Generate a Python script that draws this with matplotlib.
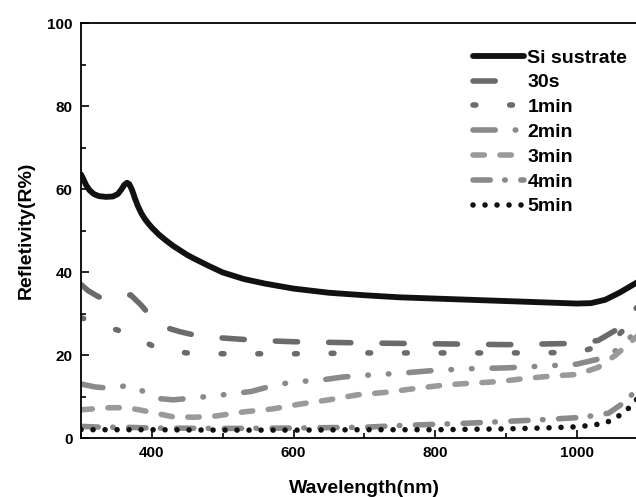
import matplotlib
matplotlib.use('Agg')
import matplotlib.pyplot as plt
from matplotlib.ticker import MultipleLocator

plt.rcParams['font.family'] = ['Liberation Sans', 'DejaVu Sans']
plt.rcParams['font.weight'] = 'bold'

# data (wavelength in nm, reflectivity in %)
wl_si = [300, 303, 307, 312, 318, 325, 335, 345, 352, 357, 361, 365, 368, 372, 376,
         380, 385, 390, 395, 400, 410, 420, 430, 440, 450, 460, 480, 500, 530, 560,
         600, 650, 700, 750, 800, 850, 900, 950, 1000, 1020, 1040, 1060, 1080, 1100]
r_si = [63.5, 62.5, 61, 59.7, 58.8, 58.3, 58.1, 58.2, 58.8, 59.9, 61, 61.5, 61.2,
        59.8, 57.8, 56, 54.2, 52.8, 51.7, 50.7, 49, 47.6, 46.3, 45.2, 44.1, 43.2,
        41.5, 39.9, 38.3, 37.2, 36, 35, 34.4, 33.9, 33.6, 33.3, 33, 32.7, 32.4,
        32.5, 33.3, 35, 37, 39]

wl_30s = [300, 310, 325, 340, 355, 370, 385, 400, 420, 440, 460, 500, 550, 600,
          700, 800, 900, 1000, 1030, 1055, 1085, 1100]
r_30s = [37, 35.5, 34, 33.5, 33.8, 34.5, 32, 29, 26.6, 25.6, 24.8, 24.1, 23.5,
         23.2, 22.9, 22.7, 22.5, 22.8, 23.5, 26, 31.5, 34]

wl_1min = [300, 320, 340, 352, 370, 385, 400, 420, 450, 500, 600, 700, 800, 900,
           1000, 1030, 1055, 1085, 1100]
r_1min = [29, 27.8, 26.5, 26, 24.5, 23.5, 22.3, 21, 20.5, 20.3, 20.3, 20.5, 20.5,
          20.5, 20.6, 22, 24.3, 29, 31]

wl_2min = [300, 320, 340, 360, 375, 390, 410, 430, 450, 500, 540, 575, 600, 640,
           670, 700, 750, 800, 850, 900, 950, 1000, 1030, 1060, 1085, 1100]
r_2min = [13, 12.3, 12, 12.5, 12.5, 11, 9.5, 9.2, 9.5, 10.4, 11.2, 12.8, 13.5, 14,
          14.7, 15.1, 15.6, 16.3, 16.7, 16.9, 17.3, 17.8, 19, 21.5, 26, 28]

wl_3min = [300, 340, 365, 385, 410, 430, 460, 490, 530, 570, 610, 650, 690, 730,
           775, 815, 850, 890, 930, 970, 1000, 1030, 1055, 1075, 1085, 1100]
r_3min = [6.8, 7.3, 7.3, 6.7, 5.8, 5.1, 5, 5.3, 6.3, 7, 8.2, 9.2, 10.4, 11, 12,
          12.8, 13.2, 13.6, 14.4, 15, 15.3, 17, 20, 23, 24.5, 26]

wl_4min = [300, 330, 360, 400, 500, 600, 700, 750, 800, 850, 900, 950, 1000, 1030,
           1045, 1062, 1080, 1100]
r_4min = [2.8, 2.6, 2.6, 2.4, 2.3, 2.4, 2.6, 3, 3.3, 3.6, 4, 4.4, 4.9, 5.5, 6, 8,
          10.8, 14]

wl_5min = [300, 400, 500, 600, 700, 800, 900, 950, 1000, 1022, 1040, 1055, 1072,
           1086, 1100]
r_5min = [2, 2, 1.9, 1.9, 2, 2, 2.2, 2.4, 2.7, 3.1, 3.6, 4.8, 7, 9.6, 12]

labels = ['Si sustrate', '30s', '1min', '2min', '3min', '4min', '5min']

fig = plt.figure(figsize=(6.36, 4.97), dpi=100)
# right edge of the axes sits past the figure, the reference is cropped there
ax = fig.add_axes([0.1274, 0.1187, 0.891, 0.835])

ax.plot(wl_si, r_si, color='#111111', lw=4.2, solid_capstyle='round',
        solid_joinstyle='round', label=labels[0])
ax.plot(wl_30s, r_30s, color='#6b6b6b', lw=4, dash_capstyle='round',
        linestyle=(0, (4.0, 5.6)), label=labels[1])
ax.plot(wl_1min, r_1min, color='#6b6b6b', lw=4, dash_capstyle='round',
        linestyle=(0, (0.5, 6.1)), label=labels[2])
ax.plot(wl_2min, r_2min, color='#8a8a8a', lw=4, dash_capstyle='round',
        linestyle=(0, (4.0, 3.6, 0.1, 3.6, 0.1, 3.6)), label=labels[3])
ax.plot(wl_3min, r_3min, color='#9a9a9a', lw=4, dash_capstyle='round',
        linestyle=(0, (2.05, 2.8)), label=labels[4])
ax.plot(wl_4min, r_4min, color='#8a8a8a', lw=4, dash_capstyle='round',
        linestyle=(0, (3.1, 2.6, 0.1, 2.8)), label=labels[5])
ax.plot(wl_5min, r_5min, color='#111111', lw=4, dash_capstyle='round',
        linestyle=(0, (0.01, 2.15)), label=labels[6])

ax.set_xlim(300, 1100)
ax.set_ylim(0, 100)
ax.xaxis.set_major_locator(MultipleLocator(200))
ax.xaxis.set_minor_locator(MultipleLocator(100))
ax.yaxis.set_major_locator(MultipleLocator(20))
ax.yaxis.set_minor_locator(MultipleLocator(10))
ax.tick_params(which='both', direction='in', width=1.2, labelsize=11, pad=6)
ax.tick_params(which='major', length=6)
ax.tick_params(which='minor', length=3.5)
ax.tick_params(axis='y', which='both', right=False)
ax.tick_params(axis='x', which='both', top=False)
ax.set_xticks([400, 600, 800, 1000])
for s in ax.spines.values():
    s.set_linewidth(1.3)

ax.set_xlabel('Wavelength(nm)', fontsize=14, fontweight='bold', labelpad=14)
ax.set_ylabel('Refletivity(R%)', fontsize=14, fontweight='bold', labelpad=9)

leg = ax.legend(loc='upper left', bbox_to_anchor=(473 / 636, 1 - 49 / 497),
                bbox_transform=fig.transFigure, frameon=False, fontsize=14,
                handlelength=2.6, handletextpad=0.2, labelspacing=0.37,
                borderpad=0, borderaxespad=0)

fig.savefig('out.png', dpi=100)
